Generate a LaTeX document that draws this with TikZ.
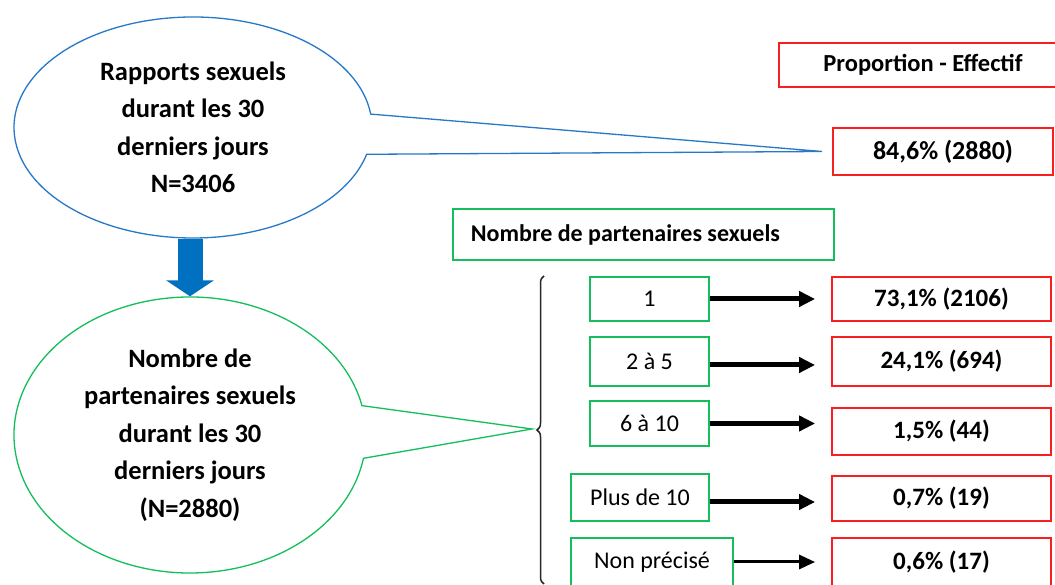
\documentclass[tikz,border=0pt]{standalone}
\usepackage{fontspec}
\setmainfont{Carlito}
\usetikzlibrary{shapes.callouts,shapes.geometric,arrows.meta,decorations.pathreplacing,calc}
\definecolor{cblue}{RGB}{40,120,200}
\definecolor{cfill}{RGB}{0,112,192}
\definecolor{cgreen}{RGB}{20,190,90}
\definecolor{cred}{RGB}{250,30,30}
\begin{document}
\begin{tikzpicture}[x=1pt,y=1pt,
  redbox/.style={draw=cred, line width=1.8pt, inner sep=0pt, font=\bfseries\fontsize{25}{30}\selectfont},
  grnbox/.style={draw=cgreen, line width=1.8pt, inner sep=0pt, font=\fontsize{24}{29}\selectfont},
  bubble/.style={ellipse callout, line width=1.3pt, inner sep=0pt, align=center, font=\bfseries\fontsize{26.5}{37.5}\selectfont},
  blkarrow/.style={line width=5pt, -{Triangle[length=16pt,width=15pt]}, shorten >=16pt},
  thinarrow/.style={line width=3pt, -{Triangle[length=16pt,width=14pt]}, shorten >=16pt}
]
\useasboundingbox (0,0) rectangle (1055,585);
\clip (0,0) rectangle (1055,585);
\fill[white] (0,0) rectangle (1055,585);

% right column boxes
\node[redbox, minimum width=288pt, minimum height=44pt, font=\bfseries\fontsize{24.5}{29}\selectfont] (hdr) at (923,520) {Proportion - Effectif};
\node[redbox, minimum width=220pt, minimum height=47pt, font=\bfseries\fontsize{26}{30}\selectfont] (r0) at (943,433.5) {84,6\% (2880)};
\node[grnbox, anchor=west, minimum width=381pt, minimum height=51pt, text width=345pt, inner xsep=18pt, align=flush left, font=\bfseries\fontsize{24}{29}\selectfont] (nb) at (452,350.5) {Nombre de partenaires sexuels};

\node[grnbox, minimum width=119pt, minimum height=44pt] (c1) at (649.5,286) {1};
\node[grnbox, minimum width=119pt, minimum height=49pt] (c2) at (649.5,223.5) {2 à 5};
\node[grnbox, minimum width=119pt, minimum height=45pt] (c3) at (649.5,161.5) {6 à 10};
\node[grnbox, minimum width=138pt, minimum height=47pt] (c4) at (640,87.5) {Plus de 10};
\node[grnbox, minimum width=162pt, minimum height=48pt] (c5) at (652,23) {Non précisé};

\node[redbox, minimum width=219pt, minimum height=44pt] (p1) at (941.5,286) {73,1\% (2106)};
\node[redbox, minimum width=219pt, minimum height=49pt] (p2) at (941.5,223.5) {24,1\% (694)};
\node[redbox, minimum width=219pt, minimum height=47pt] (p3) at (941.5,153.5) {1,5\% (44)};
\node[redbox, minimum width=219pt, minimum height=45pt] (p4) at (941.5,86.5) {0,7\% (19)};
\node[redbox, minimum width=219pt, minimum height=48pt] (p5) at (941.5,23) {0,6\% (17)};

% arrows
\draw[blkarrow] (c1.east) -- (c1.east -| p1.west);
\draw[blkarrow] ([yshift=-3.5pt]c2.east) -- ([yshift=-3.5pt]c2.east -| p2.west);
\draw[blkarrow] (c3.east) -- (c3.east -| p3.west);
\draw[blkarrow] ([yshift=-4.5pt]c4.east) -- ([yshift=-4.5pt]c4.east -| p4.west);
\draw[thinarrow] (c5.east) -- (c5.east -| p5.west);

% brace
\coordinate (brb) at (544,1);
\coordinate (brt) at (544,309);
\draw[decorate, decoration={brace, amplitude=7pt}, line width=1.5pt, black!85] (brb) -- (brt);

% callouts
\coordinate (btip) at ($(r0.west)+(-10,0)$);
\coordinate (gtip) at (532,156);
\node[bubble, draw=cblue, minimum width=358pt, minimum height=221pt, callout absolute pointer=(btip), callout pointer arc=21] (b) at (193,457.5) {Rapports sexuels\\durant les 30\\derniers jours\\N=3406};
\node[bubble, draw=cgreen, minimum width=352pt, minimum height=276pt, callout absolute pointer=(gtip), callout pointer arc=22] (g) at (190,150) {Nombre de\\partenaires sexuels\\durant les 30\\derniers jours\\(N=2880)};

% thick blue arrow
\draw[cfill, line width=25pt, -{Triangle[length=16pt,width=47pt]}] (b.south -| g.north) -- (g.north);
\end{tikzpicture}
\end{document}
